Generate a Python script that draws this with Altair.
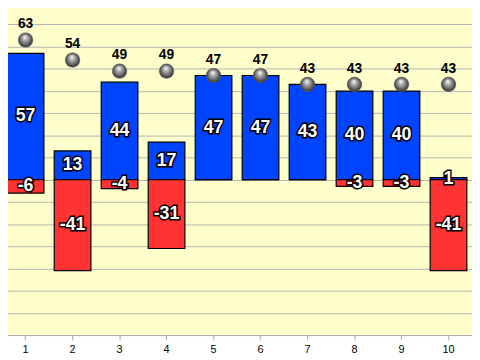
import altair as alt
import pandas as pd

categories = ["1", "2", "3", "4", "5", "6", "7", "8", "9", "10"]
positive = [57, 13, 44, 17, 47, 47, 43, 40, 40, 1]
negative = [-6, -41, -4, -31, 0, 0, 0, -3, -3, -41]
totals = [63, 54, 49, 49, 47, 47, 43, 43, 43, 43]
grid_values = [-70, -60, -50, -40, -30, -20, -10, 0, 10, 20, 30, 40, 50, 60, 70, 80]

rows = []
for c, p, n, t in zip(categories, positive, negative, totals):
    rows.append({"cat": c, "pos": p, "neg": n, "total": t,
                 "pos_mid": p / 2, "neg_mid": n / 2,
                 "pos_lbl": str(p), "neg_lbl": str(n) if n != 0 else ""})
df = pd.DataFrame(rows)

ydom = [-70, 80]
x = alt.X("cat:N", sort=categories, title=None,
          scale=alt.Scale(paddingInner=0.22, paddingOuter=0.11))
yscale = alt.Scale(domain=ydom, nice=False)
yaxis = alt.Axis(labels=False, ticks=False, grid=True, gridColor="#b4b4b4",
                 values=grid_values, domainColor="#aaaaaa", title=None)


def Y(field):
    return alt.Y(field, scale=yscale, axis=yaxis, title=None)


base = alt.Chart(df)

pos_bar = base.mark_bar(color="#0044ff", stroke="black", strokeWidth=1.2).encode(
    x=x, y=Y("pos:Q"), y2=alt.datum(0))
neg_bar = base.mark_bar(color="#ff3333", stroke="black", strokeWidth=1.2).encode(
    x=x, y=Y("neg:Q"), y2=alt.datum(0))


def outlined(field_y, field_t, data_filter=None):
    c = base
    if data_filter is not None:
        c = c.transform_filter(data_filter)
    back = c.mark_text(font="Liberation Sans", fontSize=18, fontWeight="bold",
                       color="black", stroke="black", strokeWidth=3,
                       baseline="middle").encode(
        x=x, y=Y(field_y), text=field_t)
    front = c.mark_text(font="Liberation Sans", fontSize=18, fontWeight="bold",
                        color="white", baseline="middle").encode(
        x=x, y=Y(field_y), text=field_t)
    return back + front


pos_lbl = outlined("pos_mid:Q", "pos_lbl:N")
neg_lbl = outlined("neg_mid:Q", "neg_lbl:N", alt.datum.neg != 0)

sphere = base.mark_point(
    shape="circle", filled=True, size=220, opacity=1,
    fill={"gradient": "radial", "x1": 0.45, "y1": 0.28, "r1": 0.0,
          "x2": 0.5, "y2": 0.5, "r2": 0.55,
          "stops": [{"offset": 0, "color": "#ffffff"},
                    {"offset": 0.3, "color": "#b4b4b4"},
                    {"offset": 0.75, "color": "#555555"},
                    {"offset": 1, "color": "#2a2a2a"}]},
    stroke="#666666", strokeWidth=0.5
).encode(x=x, y=Y("total:Q"))

total_lbl = base.mark_text(font="Liberation Sans", fontSize=14, fontWeight="bold",
                           color="black", dy=-16, baseline="middle").encode(
    x=x, y=Y("total:Q"), text="total:Q")

chart = (pos_bar + neg_bar + pos_lbl + neg_lbl + sphere + total_lbl).properties(
    width=476, height=337,
    padding={"left": -6, "top": -8, "right": 0, "bottom": 0},
    background="white",
).configure_view(fill="#ffffcc", stroke=None
).configure_axisX(labelAngle=0, labelColor="black", labelFontSize=11,
                  labelFont="Liberation Sans", domainColor="#aaaaaa",
                  tickColor="#aaaaaa", tickSize=5, grid=False, labelPadding=4)

chart.save("out.html", embed_options={"renderer": "svg", "actions": False})
